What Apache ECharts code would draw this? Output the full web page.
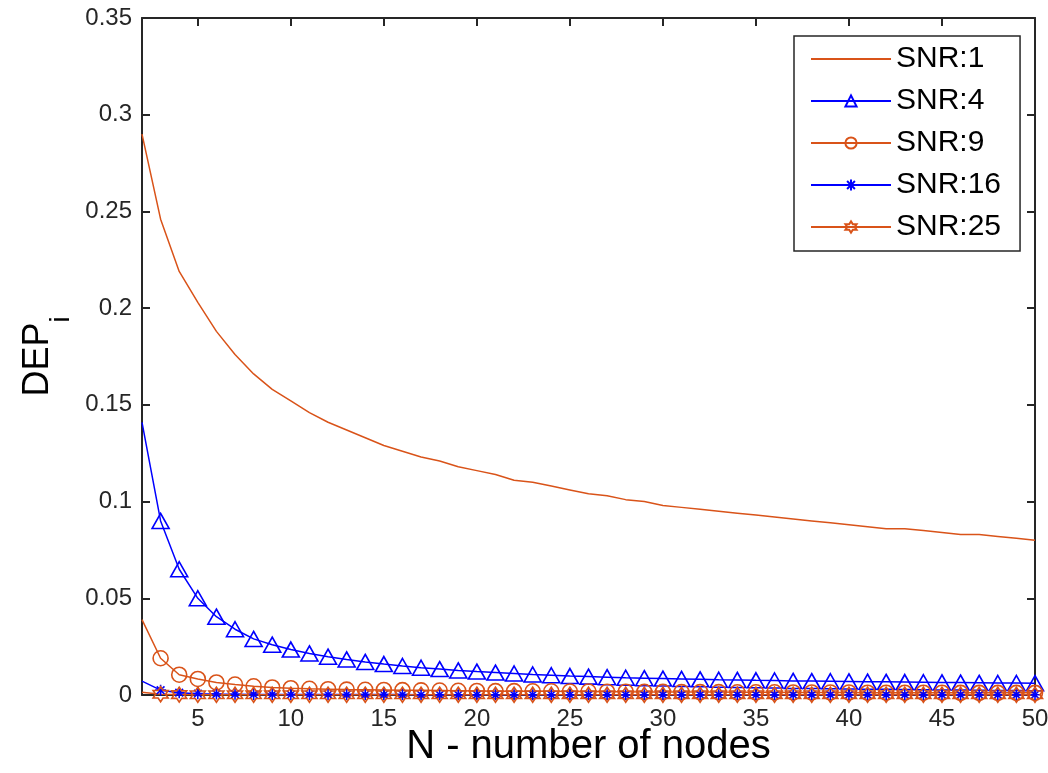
<!DOCTYPE html>
<html>
<head>
<meta charset="utf-8">
<script src="https://cdn.jsdelivr.net/npm/echarts@6/dist/echarts.min.js"></script>
<style>
html,body{margin:0;padding:0;background:#fff;}
#chart{width:1048px;height:773px;}
</style>
</head>
<body>
<div id="chart"></div>
<script>
// ---- data ----
const N = [2,3,4,5,6,7,8,9,10,11,12,13,14,15,16,17,18,19,20,21,22,23,24,25,26,27,28,29,30,31,32,33,34,35,36,37,38,39,40,41,42,43,44,45,46,47,48,49,50];
const snr1 = [0.290,0.246,0.219,0.203,0.188,0.176,0.166,0.158,0.152,0.146,0.141,0.137,0.133,0.129,0.126,0.123,0.121,0.118,0.116,0.114,0.111,0.110,0.108,0.106,0.104,0.103,0.101,0.100,0.098,0.097,0.096,0.095,0.094,0.093,0.092,0.091,0.090,0.089,0.088,0.087,0.086,0.086,0.085,0.084,0.083,0.083,0.082,0.081,0.080];
const snr4 = [0.141,0.090,0.065,0.050,0.0405,0.034,0.029,0.026,0.0235,0.0215,0.0198,0.0184,0.0171,0.0160,0.0150,0.0141,0.0134,0.0127,0.0121,0.0116,0.0111,0.0106,0.0102,0.0098,0.0095,0.0092,0.0089,0.0087,0.0085,0.0083,0.0081,0.0079,0.0078,0.0076,0.0075,0.0073,0.0072,0.0071,0.0070,0.0069,0.0068,0.0067,0.0066,0.0065,0.0064,0.0063,0.0062,0.0062,0.0061];
const snr9 = [0.039,0.019,0.0105,0.0083,0.0065,0.0054,0.0045,0.0039,0.0035,0.0032,0.0030,0.0028,0.0027,0.0026,0.0025,0.0024,0.0023,0.0022,0.0021,0.0020,0.0020,0.0019,0.0019,0.0018,0.0018,0.0017,0.0017,0.0016,0.0016,0.0015,0.0015,0.0015,0.0014,0.0014,0.0014,0.0013,0.0013,0.0013,0.0013,0.0012,0.0012,0.0012,0.0012,0.0012,0.0011,0.0011,0.0011,0.0011,0.0011];
const snr16 = [0.0072,0.0025,0.0012,0.0007,0.0005,0.0004,0.0003,0.0003,0.0002,0.0002,0.0002,0.0002,0.0002,0.0002,0.0002,0.0001,0.0001,0.0001,0.0001,0.0001,0.0001,0.0001,0.0001,0.0001,0.0001,0.0001,0.0001,0.0001,0.0001,0.0001,0.0001,0.0001,0.0001,0.0001,0.0001,0.0001,0.0001,0.0001,0.0001,0.0001,0.0001,0.0001,0.0001,0.0001,0.0001,0.0001,0.0001,0.0001,0.0001];
const snr25 = [0.0014,0.0004,0.0002,0.0001,0.0001,0.0001,0.0001,0.0001,0.0001,0.0001,0.0001,0.0001,0.0001,0.0001,0.0001,0.0001,0.0001,0.0001,0.0001,0.0001,0.0001,0.0001,0.0001,0.0001,0.0001,0.0001,0.0001,0.0001,0.0001,0.0001,0.0001,0.0001,0.0001,0.0001,0.0001,0.0001,0.0001,0.0001,0.0001,0.0001,0.0001,0.0001,0.0001,0.0001,0.0001,0.0001,0.0001,0.0001,0.0001];
const seriesNames = ['SNR:1','SNR:4','SNR:9','SNR:16','SNR:25'];
const xTicks = [5,10,15,20,25,30,35,40,45,50];

// ---- styles ----
const ORANGE = '#D95319';
const BLUE = '#0000FF';
const AXC = '#262626';
const FONT = 'Liberation Sans, Arial, sans-serif';

function hexagramPath(){
  let d = '';
  for (let k = 0; k < 12; k++) {
    const a = (-90 + 30 * k) * Math.PI / 180;
    const r = (k % 2) ? 0.577 : 1;
    const x = (r * Math.cos(a) * 10).toFixed(3), y = (r * Math.sin(a) * 10).toFixed(3);
    d += (k === 0 ? 'M' : 'L') + x + ',' + y;
  }
  return 'path://' + d + 'Z';
}
const ASTERISK = 'path://M0,-10L0,10M-10,0L10,0M-7,-7L7,7M-7,7L7,-7';

function pairs(vals){
  return vals.map((v, i) => {
    const it = { value: [N[i], v] };
    if (i === 0) it.symbol = 'none';
    return it;
  });
}

function mkSeries(name, vals, color, symbol, size){
  return {
    name, type: 'line', data: pairs(vals),
    symbol: symbol, symbolSize: size || 10, showAllSymbol: true,
    lineStyle: { color, width: 1.5 },
    itemStyle: { color: 'rgba(0,0,0,0)', borderColor: color, borderWidth: 1.6 },
    emphasis: { disabled: true },
    animation: false, z: 3
  };
}

const axisCommon = {
  axisLine: { show: true, onZero: false, lineStyle: { color: AXC, width: 2 } },
  axisTick: { show: true, inside: true, length: 8, lineStyle: { color: AXC, width: 2 } },
  splitLine: { show: false }
};

const chart = echarts.init(document.getElementById('chart'), null, { renderer: 'canvas' });
chart.setOption({
  backgroundColor: '#fff',
  animation: false,
  textStyle: { fontFamily: FONT },
  grid: { left: 142, top: 18, right: 13, bottom: 78, containLabel: false, outerBoundsMode: 'none' },
  xAxis: [
    Object.assign({}, axisCommon, {
      type: 'value', position: 'bottom', min: 2, max: 50,
      axisTick: Object.assign({}, axisCommon.axisTick, { customValues: xTicks }),
      axisLabel: { customValues: xTicks, fontSize: 24, color: AXC, margin: 12, fontFamily: FONT },
      name: 'N - number of nodes', nameLocation: 'middle', nameGap: 32, nameMoveOverlap: false,
      nameTextStyle: { fontSize: 40, color: '#000', fontFamily: FONT }
    }),
    Object.assign({}, axisCommon, {
      type: 'value', position: 'top', min: 2, max: 50,
      axisTick: Object.assign({}, axisCommon.axisTick, { customValues: xTicks }),
      axisLabel: { show: false }
    })
  ],
  yAxis: [
    Object.assign({}, axisCommon, {
      type: 'value', position: 'left', min: 0, max: 0.35, interval: 0.05,
      axisLabel: { fontSize: 24, color: AXC, margin: 10, fontFamily: FONT },
      name: '{a|DEP}{b|i}', nameLocation: 'middle', nameGap: 86, nameRotate: 90, nameMoveOverlap: false,
      nameTextStyle: {
        color: '#000', fontFamily: FONT,
        rich: {
          a: { fontSize: 36, lineHeight: 36, color: '#000', fontFamily: FONT },
          b: { fontSize: 28, lineHeight: 28, padding: [46, 0, 0, 0], color: '#000', fontFamily: FONT }
        }
      }
    }),
    Object.assign({}, axisCommon, {
      type: 'value', position: 'right', min: 0, max: 0.35, interval: 0.05,
      axisLabel: { show: false }
    })
  ],
  legend: {
    orient: 'vertical', left: 794, top: 36,
    data: [
      { name: 'SNR:1', itemStyle: { opacity: 0 } },
      'SNR:4', 'SNR:9', 'SNR:16', 'SNR:25'
    ],
    backgroundColor: '#fff', borderColor: AXC, borderWidth: 1.5, borderRadius: 0,
    padding: [8, 19, 9, 16],
    itemWidth: 80, itemHeight: 14, itemGap: 12,
    textStyle: { fontSize: 30, color: '#000', fontFamily: FONT },
    selectedMode: false
  },
  series: [
    mkSeries('SNR:1', snr1, ORANGE, 'none'),
    mkSeries('SNR:4', snr4, BLUE, 'triangle', [17, 15]),
    mkSeries('SNR:9', snr9, ORANGE, 'circle', 15),
    mkSeries('SNR:16', snr16, BLUE, ASTERISK, 11),
    mkSeries('SNR:25', snr25, ORANGE, hexagramPath(), 15)
  ]
});
</script>
</body>
</html>
